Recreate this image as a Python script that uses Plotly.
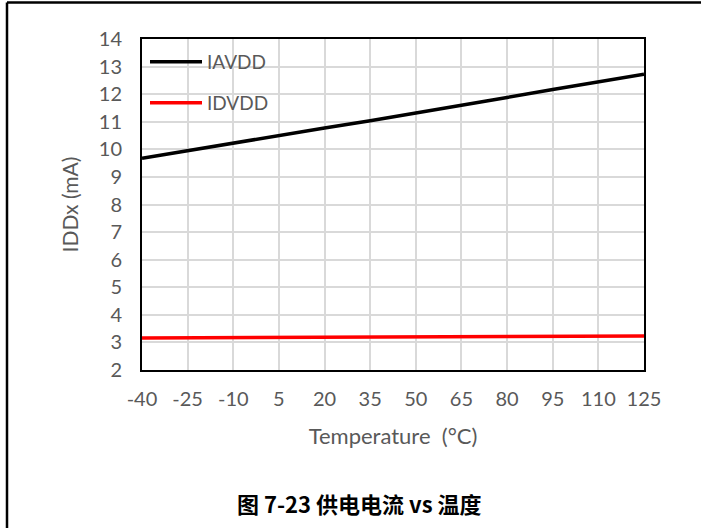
import plotly.graph_objects as go

temps = ["-40", "-25", "-10", "5", "20", "35", "50", "65", "80", "95", "110", "125"]
iavdd = [9.68, 9.96, 10.23, 10.50, 10.77, 11.04, 11.31, 11.58, 11.88, 12.17, 12.45, 12.72]
idvdd = [3.16, 3.165, 3.17, 3.175, 3.18, 3.185, 3.19, 3.20, 3.21, 3.22, 3.225, 3.23]
y_ticks = list(range(2, 15))

W, H = 701, 528
L, R, T, B = 142, 644, 39, 370
pw, ph = R - L, B - T

def px(x):
    return (x - L) / pw

def py(y):
    return 1 - (y - T) / ph

FONT = "Lato, 'Open Sans', sans-serif"
GRAY = "#595959"

idx = list(range(len(temps)))

fig = go.Figure()
fig.add_trace(go.Scatter(x=idx, y=iavdd, mode="lines", name="IAVDD",
                         line=dict(color="#000000", width=3.5), legend="legend"))
fig.add_trace(go.Scatter(x=idx, y=idvdd, mode="lines", name="IDVDD",
                         line=dict(color="#ff0000", width=3.5), legend="legend2"))

legend_common = dict(bgcolor="rgba(0,0,0,0)", font=dict(family=FONT, size=19, color=GRAY),
                     xanchor="left", yanchor="middle", borderwidth=0, itemwidth=52)
fig.update_layout(
    width=W, height=H,
    margin=dict(l=L, r=W - R, t=T, b=H - B),
    paper_bgcolor="white", plot_bgcolor="white",
    font=dict(family=FONT, size=20, color=GRAY),
    legend=dict(x=px(145), y=py(62), **legend_common),
    legend2=dict(x=px(145), y=py(103), **legend_common),
    xaxis=dict(
        range=[0, len(temps) - 1],
        tickvals=idx, ticktext=temps,
        showgrid=True, gridcolor="#d9d9d9", gridwidth=1.5,
        showline=True, linecolor="black", linewidth=2, mirror=True,
        ticks="", zeroline=False, ticklabelstandoff=10,
        tickfont=dict(family=FONT, size=20, color=GRAY),
        title=dict(text="Temperature  (°C)", font=dict(family=FONT, size=22, color=GRAY), standoff=20),
    ),
    yaxis=dict(
        range=[2, 14], tickvals=y_ticks,
        showgrid=True, gridcolor="#d9d9d9", gridwidth=1.5,
        showline=True, linecolor="black", linewidth=2, mirror=True,
        ticks="", zeroline=False, ticklabelstandoff=14,
        tickfont=dict(family=FONT, size=20, color=GRAY),
        title=dict(text="IDDx (mA)", font=dict(family=FONT, size=21, color=GRAY), standoff=14),
    ),
    showlegend=True,
)

# outer frame lines (left and top)
fig.add_shape(type="line", xref="paper", yref="paper", x0=px(7), x1=px(W + 5), y0=py(2.5), y1=py(2.5),
              line=dict(color="black", width=2.5), layer="above")
fig.add_shape(type="line", xref="paper", yref="paper", x0=px(7), x1=px(7), y0=py(2.5), y1=py(H + 5),
              line=dict(color="black", width=2.5), layer="above")

fig.add_annotation(text="<b>图 7-23 供电电流 vs 温度</b>", xref="paper", yref="paper",
                   x=px(359), y=py(503), showarrow=False, xanchor="center", yanchor="middle",
                   font=dict(family="'Noto Sans CJK SC', sans-serif", size=22, color="black"))

fig.write_html("out.html", config={"displayModeBar": False},
               post_script="document.body.style.margin='0';")
